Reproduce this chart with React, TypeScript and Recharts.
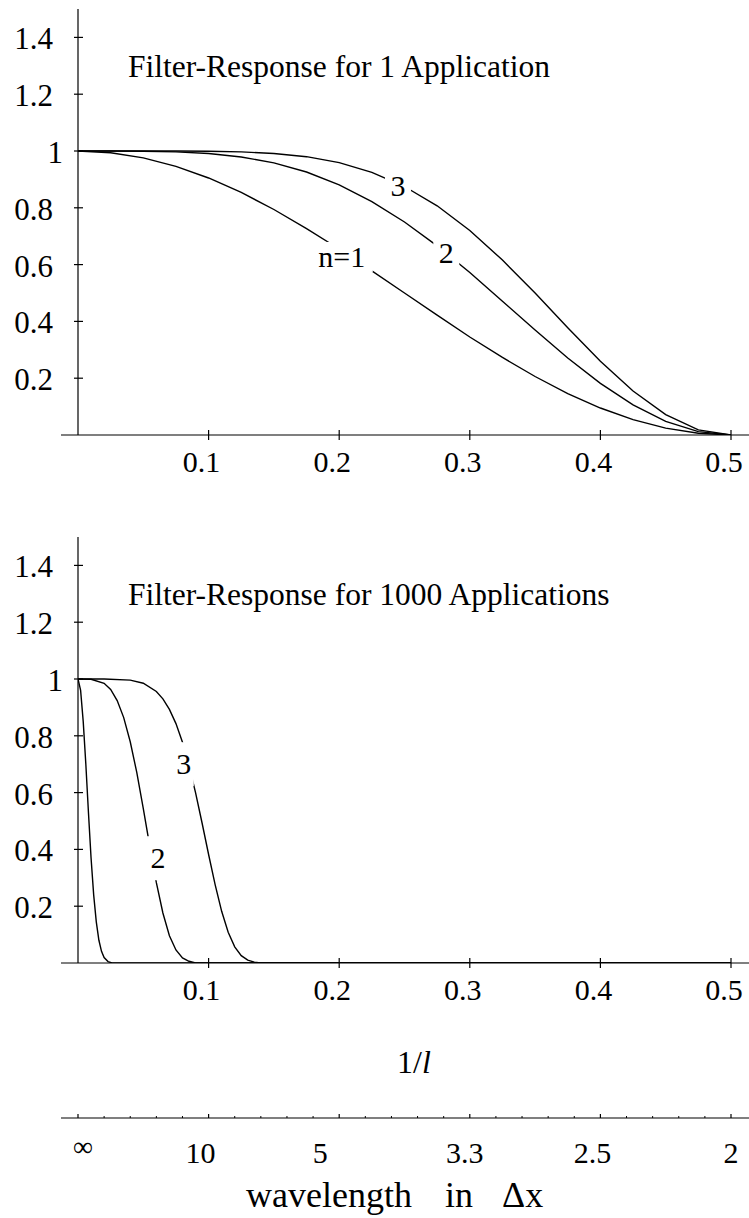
import React from "react";
import { Line, LineChart, ReferenceDot, ReferenceLine, XAxis, YAxis } from "recharts";

// 1/l sampling for the single-application panel
const topX = [0, 0.025, 0.05, 0.075, 0.1, 0.125, 0.15, 0.175, 0.2, 0.225, 0.25, 0.275, 0.3, 0.325, 0.35, 0.375, 0.4, 0.425, 0.45, 0.475, 0.5];
const topN1 = [1, 0.994, 0.976, 0.946, 0.905, 0.854, 0.794, 0.727, 0.655, 0.578, 0.5, 0.422, 0.345, 0.273, 0.206, 0.146, 0.095, 0.054, 0.024, 0.006, 0];
const topN2 = [1, 1, 0.999, 0.997, 0.991, 0.979, 0.958, 0.926, 0.881, 0.822, 0.75, 0.666, 0.572, 0.471, 0.37, 0.271, 0.182, 0.106, 0.048, 0.012, 0];
const topN3 = [1, 1, 1, 1, 0.999, 0.997, 0.991, 0.98, 0.959, 0.925, 0.875, 0.807, 0.72, 0.616, 0.5, 0.378, 0.26, 0.155, 0.072, 0.018, 0];

// 1000 applications
const botN1X = [0, 0.002, 0.004, 0.006, 0.008, 0.01, 0.012, 0.014, 0.016, 0.018, 0.02, 0.023, 0.026, 0.5];
const botN1 = [1, 0.96, 0.85, 0.7, 0.53, 0.37, 0.24, 0.145, 0.08, 0.041, 0.019, 0.005, 0, 0];
const botN2X = [0, 0.01, 0.02, 0.025, 0.03, 0.035, 0.04, 0.045, 0.05, 0.055, 0.06, 0.065, 0.07, 0.075, 0.08, 0.085, 0.09, 0.5];
const botN2 = [1, 0.999, 0.985, 0.963, 0.924, 0.864, 0.779, 0.671, 0.544, 0.41, 0.283, 0.176, 0.096, 0.046, 0.018, 0.006, 0, 0];
const botN3X = [0, 0.02, 0.04, 0.05, 0.06, 0.065, 0.07, 0.075, 0.08, 0.085, 0.09, 0.095, 0.1, 0.105, 0.11, 0.115, 0.12, 0.125, 0.13, 0.135, 0.14, 0.5];
const botN3 = [1, 1, 0.996, 0.985, 0.956, 0.93, 0.893, 0.843, 0.777, 0.696, 0.6, 0.493, 0.382, 0.276, 0.182, 0.108, 0.057, 0.026, 0.01, 0.003, 0, 0];

const xTicks = [0.1, 0.2, 0.3, 0.4, 0.5];
const yTicks = [0.2, 0.4, 0.6, 0.8, 1, 1.2, 1.4];
const waveTicks = [0, 0.1, 0.2, 0.3, 0.4, 0.5];
const waveLabels = ["∞", "10", "5", "3.3", "2.5", "2"];
const waveMinor = [0.02, 0.04, 0.06, 0.08, 0.12, 0.14, 0.16, 0.18, 0.22, 0.24, 0.26, 0.28, 0.32, 0.34, 0.36, 0.38, 0.42, 0.44, 0.46, 0.48];
// hand-set nudges of the wavelength labels relative to their ticks
const waveLabelDx = [5, -8, -19, -5, -8, 0];

const topLabels = [
  { text: "3", x: 0.245, y: 0.877, w: 26, h: 28 },
  { text: "2", x: 0.282, y: 0.641, w: 26, h: 30 },
  { text: "n=1", x: 0.202, y: 0.627, w: 62, h: 30 },
];
const botLabels = [
  { text: "3", x: 0.081, y: 0.7, w: 20, h: 44 },
  { text: "2", x: 0.0613, y: 0.369, w: 22, h: 44 },
];

const FONT = '"Liberation Serif", "DejaVu Serif", "Times New Roman", serif';
const PAD_L = 17;
const PAD_R = 18;
const INK = "#000";

const pairs = (xs: number[], ys: number[]) => xs.map((x, i) => ({ x, y: ys[i] }));

function YTick(props: any) {
  const { x, y, payload } = props;
  const ax = x + PAD_L;
  const label = String(payload.value);
  const whole = !label.includes(".");
  return (
    <g>
      <line x1={ax - 4} x2={ax + 5} y1={y} y2={y} stroke={INK} strokeWidth={1.2} />
      <text x={whole ? x + 2 : x - 8} y={y + 12} textAnchor="end" style={{ fontFamily: FONT, fontSize: 31 }} fill={INK}>
        {label}
      </text>
    </g>
  );
}

function XTick(props: any) {
  const { x, y, payload } = props;
  return (
    <g>
      <line x1={x} x2={x} y1={y - 5} y2={y + 5} stroke={INK} strokeWidth={1.2} />
      <text x={x - 7} y={y + 37} textAnchor="middle" style={{ fontFamily: FONT, fontSize: 30 }} fill={INK}>
        {String(payload.value)}
      </text>
    </g>
  );
}

function WaveTick(props: any) {
  const { x, y, payload } = props;
  const i = waveTicks.indexOf(payload.value);
  if (i < 0) return <line x1={x} x2={x} y1={y} y2={y - 2} stroke={INK} strokeWidth={1} />;
  const label = waveLabels[i];
  const inf = label === "∞";
  return (
    <g>
      <line x1={x} x2={x} y1={y} y2={y - 4} stroke={INK} strokeWidth={1.2} />
      <text
        x={x + waveLabelDx[i]}
        y={y + (inf ? 38 : 45)}
        textAnchor="middle"
        style={{ fontFamily: FONT, fontSize: inf ? 28 : 30 }}
        fill={INK}
      >
        {label}
      </text>
    </g>
  );
}

function labelShape(l: { text: string; w: number; h: number }) {
  return (p: any) => (
    <g>
      <rect x={p.cx - l.w / 2} y={p.cy - l.h / 2} width={l.w} height={l.h} fill="#fff" />
      <text x={p.cx} y={p.cy + 10} textAnchor="middle" style={{ fontFamily: FONT, fontSize: 30 }} fill={INK}>
        {l.text}
      </text>
    </g>
  );
}

const lineProps = {
  dataKey: "y",
  type: "linear" as const,
  stroke: INK,
  strokeWidth: 1.4,
  dot: false,
  isAnimationActive: false,
};

function xAxisCommon() {
  return {
    dataKey: "x",
    type: "number" as const,
    domain: [0, 0.5],
    allowDataOverflow: true,
    padding: { left: PAD_L, right: PAD_R },
    interval: 0,
    stroke: INK,
    strokeWidth: 1.2,
    tickLine: false,
    tickSize: 0,
    tickMargin: 0,
  };
}

function Panel({ series, labels, height }: { series: { x: number; y: number }[][]; labels: typeof topLabels; height: number }) {
  return (
    <LineChart width={749} height={height} margin={{ top: 9, right: 0, bottom: 0, left: 0 }}>
      <XAxis {...xAxisCommon()} ticks={xTicks} height={height - 435} tick={<XTick />} />
      <YAxis
        type="number"
        domain={[0, 1.5]}
        allowDataOverflow
        ticks={yTicks}
        interval={0}
        width={61}
        axisLine={false}
        tickLine={false}
        tickSize={0}
        tickMargin={0}
        tick={<YTick />}
      />
      <ReferenceLine x={0} stroke={INK} strokeWidth={1.2} />
      {series.map((d, i) => (
        <Line key={i} data={d} {...lineProps} />
      ))}
      {labels.map((l) => (
        <ReferenceDot key={l.text} x={l.x} y={l.y} r={0} shape={labelShape(l)} />
      ))}
    </LineChart>
  );
}

export default function App() {
  const topSeries = [pairs(topX, topN1), pairs(topX, topN2), pairs(topX, topN3)];
  const botSeries = [pairs(botN1X, botN1), pairs(botN2X, botN2), pairs(botN3X, botN3)];

  return (
    <div style={{ position: "absolute", left: 0, top: 0, width: 749, height: 1218, background: "#fff", fontFamily: FONT }}>
      <div style={{ position: "absolute", left: 0, top: 0 }}>
        <Panel series={topSeries} labels={topLabels} height={485} />
      </div>

      <div style={{ position: "absolute", left: 0, top: 528 }}>
        <Panel series={botSeries} labels={botLabels} height={485} />
      </div>

      {/* wavelength scale: same 1/l mapping, axis line at y = 1118 */}
      <div style={{ position: "absolute", left: 0, top: 1100 }}>
        <LineChart width={749} height={118} margin={{ top: 0, right: 0, bottom: 0, left: 61 }}>
          <XAxis {...xAxisCommon()} ticks={[...waveTicks, ...waveMinor]} height={100} tick={<WaveTick />} />
        </LineChart>
      </div>

      <svg width={749} height={1218} style={{ position: "absolute", left: 0, top: 0, pointerEvents: "none" }}>
        <g style={{ fontFamily: FONT }} fill={INK}>
          <text x={128} y={77} style={{ fontSize: 31.5 }}>Filter-Response for 1 Application</text>
          <text x={128} y={605} style={{ fontSize: 31.5 }}>Filter-Response for 1000 Applications</text>
          <text x={397} y={1073} style={{ fontSize: 32 }}>
            1/<tspan fontStyle="italic">l</tspan>
          </text>
          <text y={1207} style={{ fontSize: 36 }}>
            <tspan x={246}>wavelength</tspan>
            <tspan x={445}>in</tspan>
            <tspan x={502}>Δx</tspan>
          </text>
        </g>
      </svg>
    </div>
  );
}
